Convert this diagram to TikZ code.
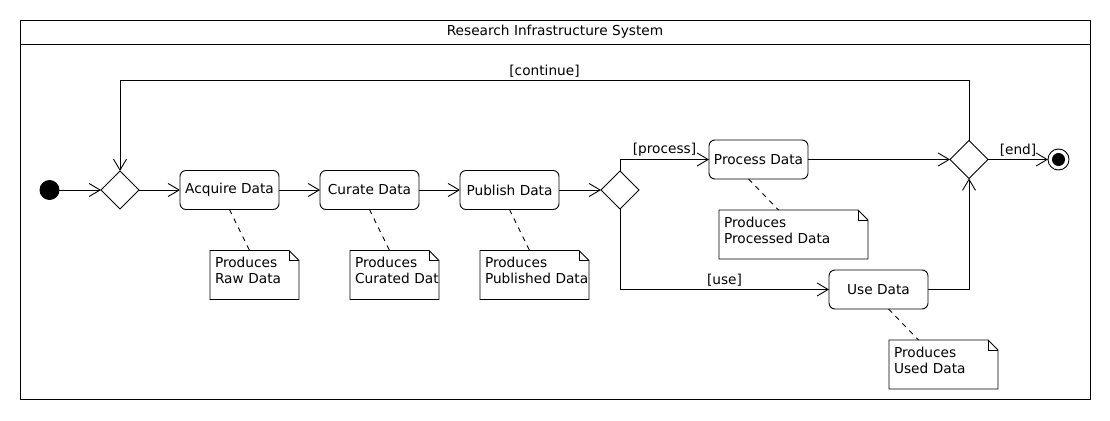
\documentclass[tikz,border=0pt]{standalone}
\usepackage{fontspec}
\setmainfont{DejaVu Sans}
\usepackage{tikz}
\usetikzlibrary{positioning, shapes.geometric, arrows.meta}

\tikzset{
  every node/.append style={outer sep=0pt},
  activity/.style={draw, rectangle, rounded corners=6pt, minimum width=99pt, minimum height=39pt, inner sep=0pt, text centered},
  decision/.style={draw, diamond, minimum width=38pt, minimum height=38pt, inner sep=0pt},
  note/.style={text width=#1, align=left, inner xsep=5pt, inner ysep=0pt, text height=17pt, text depth=32pt},
  flow/.style={-{Straight Barb[length=11pt, width=13pt]}},
  link/.style={dash pattern=on 5pt off 5pt},
  guard/.style={inner sep=3pt}
}

\begin{document}
\begin{tikzpicture}[x=1pt, y=-1pt, line width=0.9pt, font=\fontsize{13.7}{16.3}\selectfont]
        \useasboundingbox (0,0) rectangle (1110,420);

        % Frame
        \draw (20,20) rectangle (1090,399);
        \draw (20,44) -- (1090,44);
        \node (title) at (555,32) {Research Infrastructure System};

        % Nodes
        \node (dec1) [decision] at (120,190) {};
        \node (start) [left=42pt of dec1, draw, circle, fill=black, minimum size=19pt, inner sep=0pt] {};
        \node (acquire) [right=41pt of dec1, activity] {Acquire Data};
        \node (curate) [right=41pt of acquire, activity] {Curate Data};
        \node (publish) [right=41pt of curate, activity] {Publish Data};
        \node (dec2) [right=42pt of publish, decision] {};

        \node (process) [right=70pt of dec2, yshift=30.5pt, activity] {Process Data};
        \node (use) [below right=91pt and 21pt of process, activity] {Use Data};
        \node (merge) [right=142pt of process, decision] {};
        \node (stop) [right=60pt of merge, draw, circle, fill=white, minimum size=21pt, inner sep=0pt,
            path picture={\fill[black] (path picture bounding box.center) circle (6.5pt);}] {};

        \coordinate (top) at (dec1 |- 0,80);

        % Notes
        \node (nraw) [below=41pt of acquire, xshift=25pt, note=79pt] {Produces\\\mbox{Raw Data}};
        \node (ncur) [below=41pt of curate, xshift=25pt, note=79pt] {Produces\\\mbox{Curated Dat}};
        \node (npub) [below=41pt of publish, xshift=25pt, note=99pt] {Produces\\\mbox{Published Data}};
        \node (nproc) [below=31pt of process, xshift=35pt, note=139pt] {Produces\\\mbox{Processed Data}};
        \node (nuse) [below=31pt of use, xshift=65pt, note=99pt] {Produces\\\mbox{Used Data}};

        \draw (nraw.north west) -- ([xshift=-10pt]nraw.north east) -- ([yshift=-10pt]nraw.north east) -- (nraw.south east) -- (nraw.south west) -- cycle;
        \draw ([xshift=-10pt]nraw.north east) |- ([yshift=-10pt]nraw.north east);
        \draw (ncur.north west) -- ([xshift=-10pt]ncur.north east) -- ([yshift=-10pt]ncur.north east) -- (ncur.south east) -- (ncur.south west) -- cycle;
        \draw ([xshift=-10pt]ncur.north east) |- ([yshift=-10pt]ncur.north east);
        \draw (npub.north west) -- ([xshift=-10pt]npub.north east) -- ([yshift=-10pt]npub.north east) -- (npub.south east) -- (npub.south west) -- cycle;
        \draw ([xshift=-10pt]npub.north east) |- ([yshift=-10pt]npub.north east);
        \draw (nproc.north west) -- ([xshift=-10pt]nproc.north east) -- ([yshift=-10pt]nproc.north east) -- (nproc.south east) -- (nproc.south west) -- cycle;
        \draw ([xshift=-10pt]nproc.north east) |- ([yshift=-10pt]nproc.north east);
        \draw (nuse.north west) -- ([xshift=-10pt]nuse.north east) -- ([yshift=-10pt]nuse.north east) -- (nuse.south east) -- (nuse.south west) -- cycle;
        \draw ([xshift=-10pt]nuse.north east) |- ([yshift=-10pt]nuse.north east);

        % Arrows
        \draw[flow] (start) -- (dec1);
        \draw[flow] (dec1) -- (acquire);
        \draw[flow] (acquire) -- (curate);
        \draw[flow] (curate) -- (publish);
        \draw[flow] (publish) -- (dec2);

        \draw[flow] (dec2.north) |- node[guard, above, pos=0.75] {[process]} (process);
        \draw[flow] (dec2.south) |- node[guard, above, pos=0.75] {[use]} (use);
        \draw[flow] (process) -- (merge);
        \draw[flow] (use) -| (merge);
        \draw[flow] (merge) -- node[guard, above] {[end]} (stop);
        \draw[flow] (merge.north) |- node[guard, above, pos=0.75] {[continue]} (top) -- (dec1);

        % Links to notes
        \draw[link] (acquire.south) -- ([xshift=-5pt]nraw.north);
        \draw[link] (curate.south) -- ([xshift=-5pt]ncur.north);
        \draw[link] (publish.south) -- ([xshift=-5pt]npub.north);
        \draw[link] ([xshift=-10pt]process.south) -- ([xshift=-15pt]nproc.north);
        \draw[link] ([xshift=10pt]use.south) -- ([xshift=-25pt]nuse.north);

    \end{tikzpicture}
\end{document}
